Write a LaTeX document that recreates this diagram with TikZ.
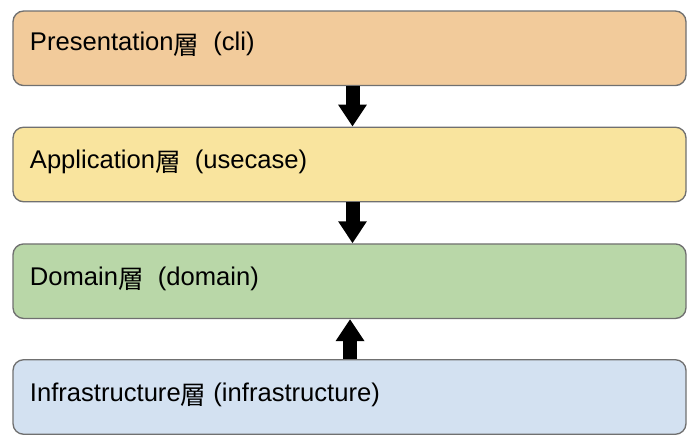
\documentclass[tikz,border=0pt]{standalone}
\usepackage{fontspec}
\setmainfont{Liberation Sans}
\newfontfamily\jp{Noto Sans CJK JP}
\usepackage{tikz}
\usetikzlibrary{arrows.meta}

\definecolor{presFill}{RGB}{242,203,155}
\definecolor{appFill}{RGB}{249,228,158}
\definecolor{domFill}{RGB}{185,215,168}
\definecolor{infFill}{RGB}{211,225,241}
\definecolor{edgeGray}{RGB}{112,112,112}

\tikzset{
  layer/.style={draw=edgeGray, line width=1pt, rounded corners=8pt, inner sep=0pt,
    minimum width=504.75pt, minimum height=55.9pt},
  lbl/.style={anchor=base west, inner sep=0pt, font=\fontsize{19.2}{23}\selectfont},
  blk/.style={-{Triangle[length=16.5pt,width=20.5pt]}, line width=10.5pt}
}
% the kanji, set a little low as in the drawing
\newcommand{\sou}{\raisebox{-2.5pt}{\jp 層}}
% full-width gap before the bracket
\newcommand{\fwgap}{\hspace{0.55em}}

\begin{document}
\begin{tikzpicture}[x=0.75pt,y=0.75pt,yscale=-1,xscale=1]
\useasboundingbox (0,0) rectangle (697,445);

%Shape: Rounded Rectangles
\node[layer, fill=presFill] (pres) at (349.5,48.3) {};
\node[layer, fill=appFill] (app) at (349.5,164.5) {};
\node[layer, fill=domFill] (dom) at (349.5,281.2) {};
\node[layer, fill=infFill] (inf) at (349.5,397) {};

% Text Node
\node[lbl] (presLbl) at ([xshift=13pt,yshift=1.8pt]pres.west) {Presentation\sou\fwgap(cli)};
% Text Node
\node[lbl] (appLbl) at ([xshift=13pt,yshift=2.8pt]app.west) {Application\sou\fwgap(usecase)};
% Text Node
\node[lbl] (domLbl) at ([xshift=13pt,yshift=2.9pt]dom.west) {Domain\sou\fwgap(domain)};
% Text Node
\node[lbl] (infLbl) at ([xshift=13pt,yshift=3.3pt]inf.west) {Infrastructure\sou{} (infrastructure)};

%Block Arrows
\draw[blk] ([xshift=2.25pt]pres.south) -- ([xshift=2.25pt]app.north);
\draw[blk] ([xshift=2.25pt]app.south) -- ([xshift=2.25pt]dom.north);
\draw[blk] ([xshift=0.4pt]inf.north) -- ([xshift=0.4pt]dom.south);

\end{tikzpicture}
\end{document}
